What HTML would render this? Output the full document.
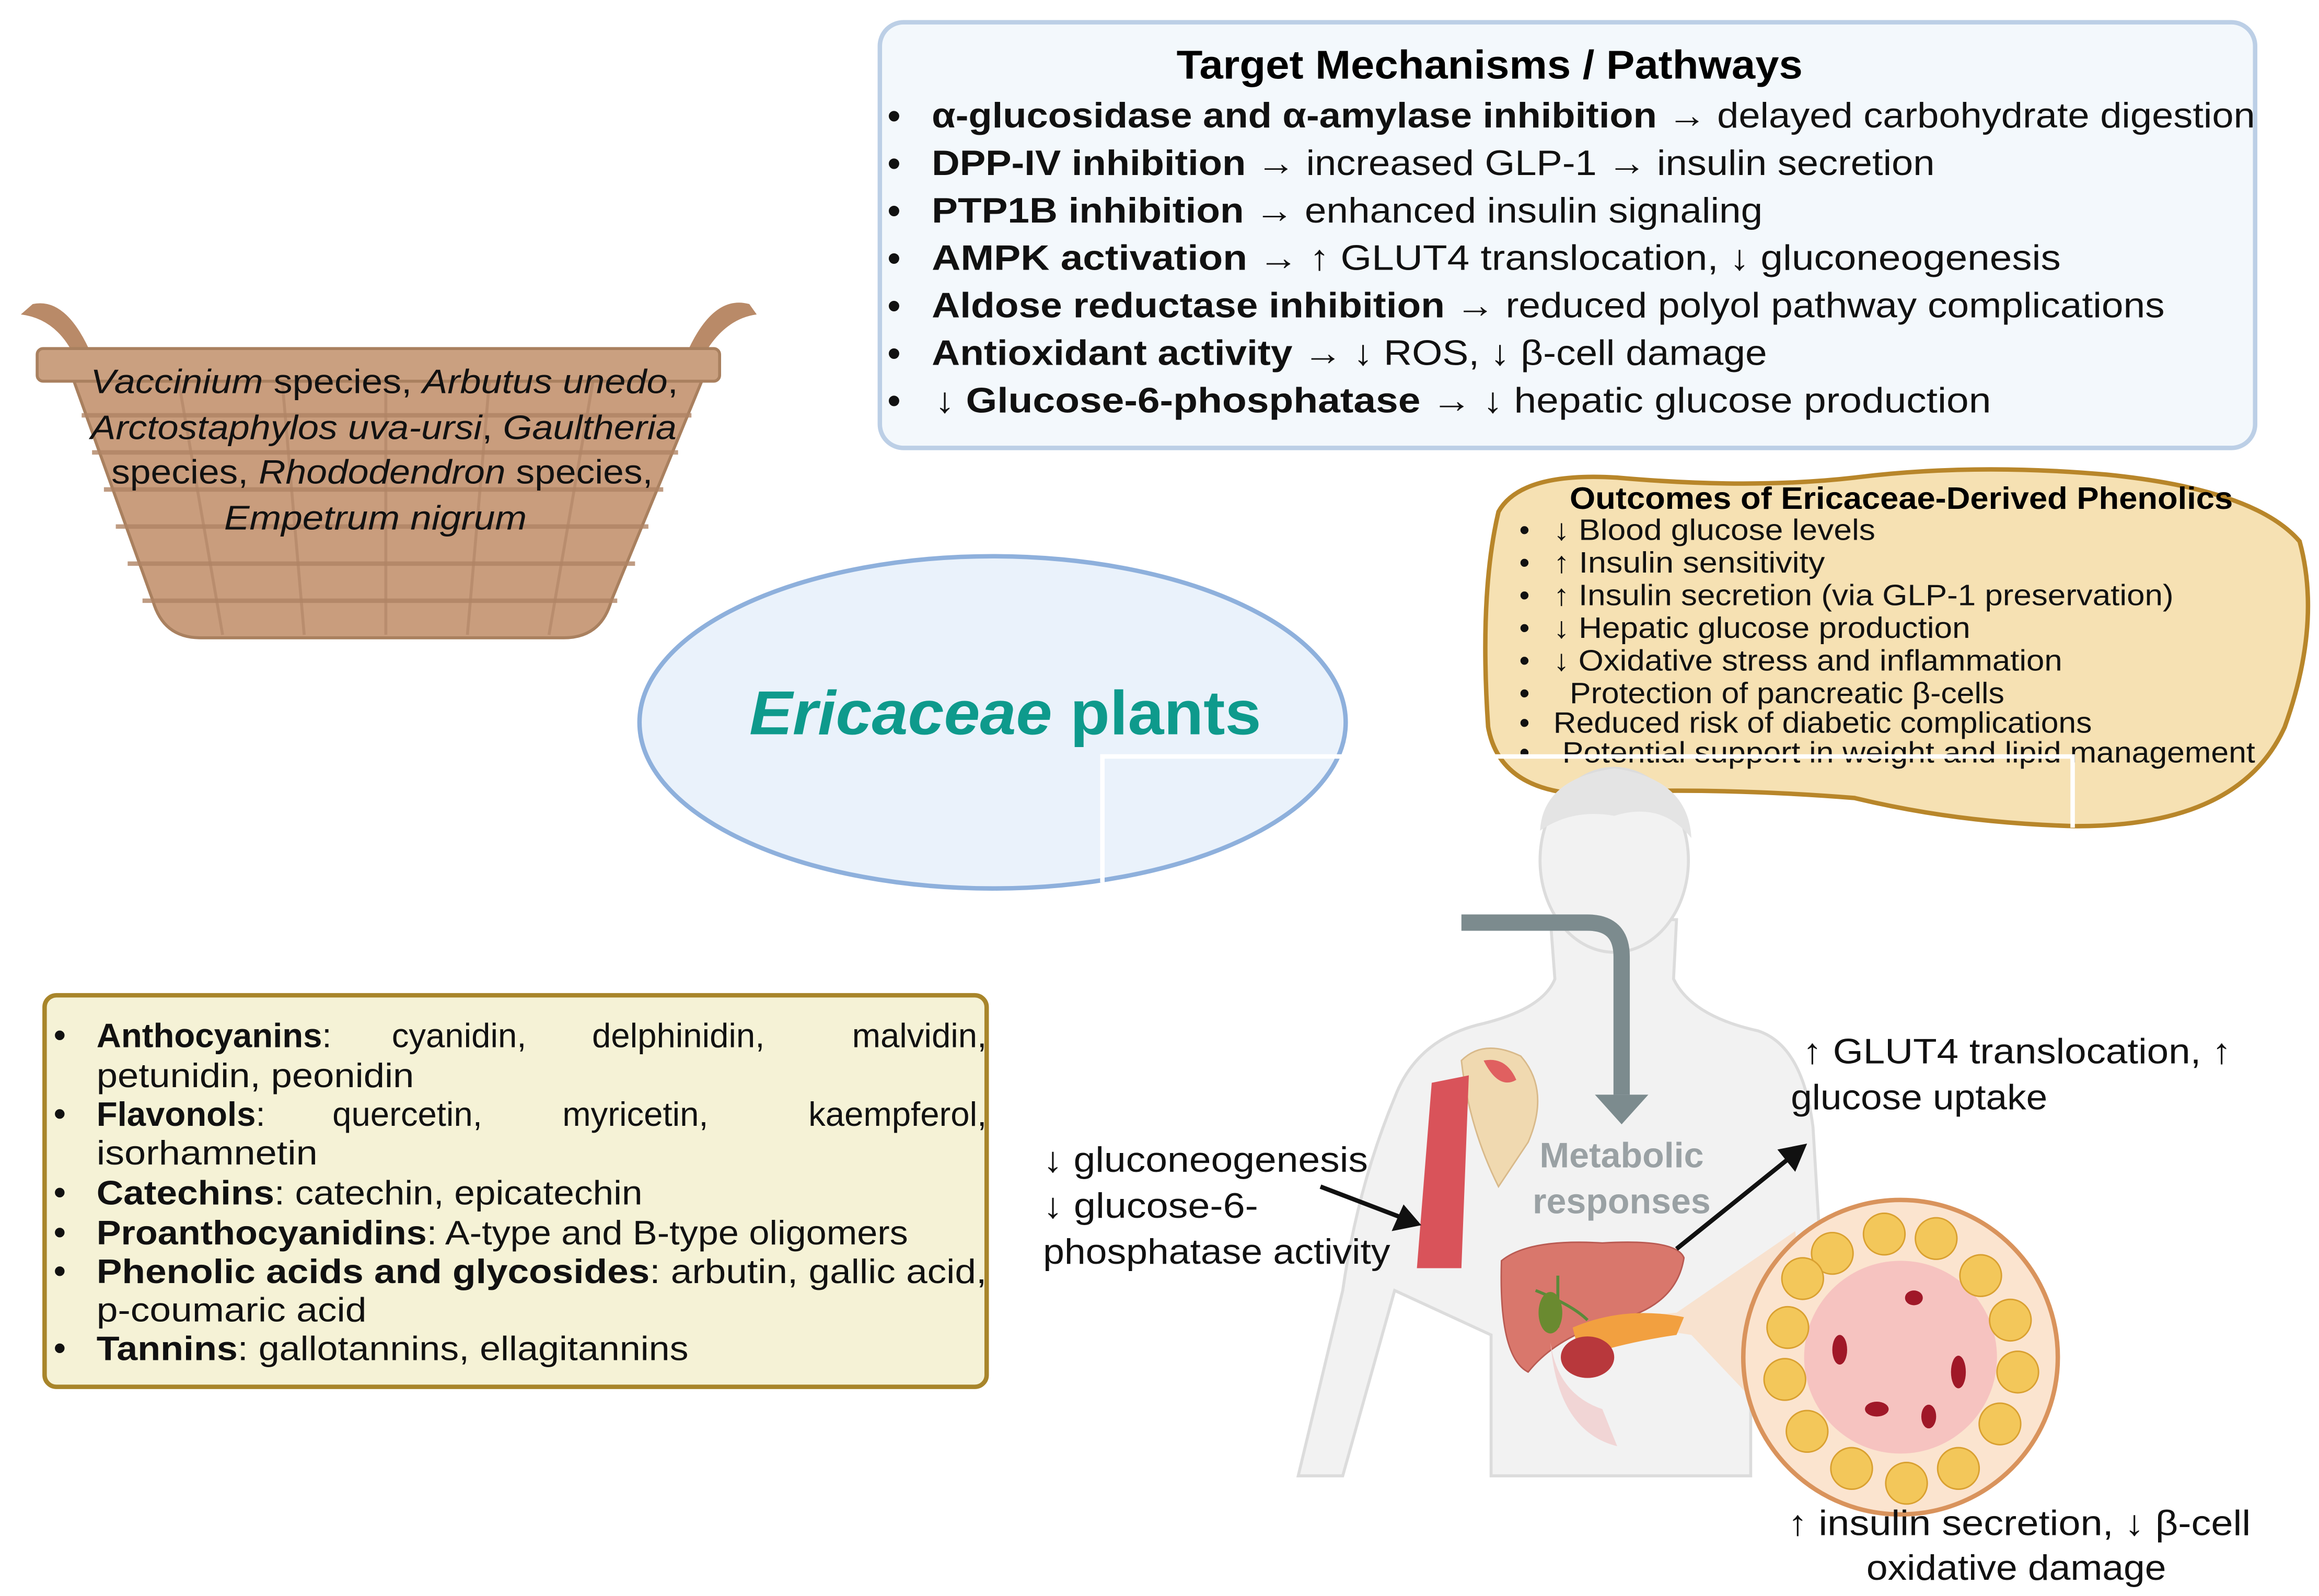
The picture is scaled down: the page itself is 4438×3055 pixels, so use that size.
<!DOCTYPE html>
<html><head><meta charset="utf-8"><style>
html,body{margin:0;padding:0;background:#fff;}
svg{display:block;}
text{font-family:"Liberation Sans",sans-serif;}
</style></head><body>
<svg width="4438" height="3055" viewBox="0 0 1563 1076" xmlns="http://www.w3.org/2000/svg">
<rect width="1563" height="1076" fill="#fff"/>
<!-- Target box -->
<rect x="593" y="15" width="927" height="287" rx="16" fill="#f3f8fc" stroke="#bccfe6" stroke-width="3"/>
<text x="793" y="53" font-size="27" font-weight="bold" textLength="422" lengthAdjust="spacingAndGlyphs">Target Mechanisms / Pathways</text>
<g font-size="24" fill="#111">
<g font-size="26"><text x="598" y="87">•</text><text x="598" y="119">•</text><text x="598" y="151">•</text><text x="598" y="183">•</text><text x="598" y="215">•</text><text x="598" y="247">•</text><text x="598" y="279">•</text></g>
<text x="628" y="86" textLength="892" lengthAdjust="spacingAndGlyphs"><tspan font-weight="bold">α-glucosidase and α-amylase inhibition</tspan> → delayed carbohydrate digestion</text>
<text x="628" y="118" textLength="676" lengthAdjust="spacingAndGlyphs"><tspan font-weight="bold">DPP-IV inhibition</tspan> → increased GLP-1 → insulin secretion</text>
<text x="628" y="150" textLength="560" lengthAdjust="spacingAndGlyphs"><tspan font-weight="bold">PTP1B inhibition</tspan> → enhanced insulin signaling</text>
<text x="628" y="182" textLength="761" lengthAdjust="spacingAndGlyphs"><tspan font-weight="bold">AMPK activation</tspan> → ↑ GLUT4 translocation, ↓ gluconeogenesis</text>
<text x="628" y="214" textLength="831" lengthAdjust="spacingAndGlyphs"><tspan font-weight="bold">Aldose reductase inhibition</tspan> → reduced polyol pathway complications</text>
<text x="628" y="246" textLength="563" lengthAdjust="spacingAndGlyphs"><tspan font-weight="bold">Antioxidant activity</tspan> → ↓ ROS, ↓ β-cell damage</text>
<text x="630" y="278" textLength="712" lengthAdjust="spacingAndGlyphs"><tspan font-weight="bold">↓ Glucose-6-phosphatase</tspan> → ↓ hepatic glucose production</text>
</g>
<!-- Basket -->
<path d="M22,205 Q45,200 62,240 L50,240 Q38,215 14,212 Z" fill="#b98a68"/>
<path d="M505,205 Q480,198 462,240 L474,240 Q488,215 510,212 Z" fill="#b98a68"/>
<path d="M48,252 L475,252 L412,405 Q405,430 380,430 L135,430 Q110,430 103,405 Z" fill="#c99d7d" stroke="#a9805f" stroke-width="2"/>
<g stroke="#b08465" stroke-width="3" opacity="0.8">
<line x1="55" y1="280" x2="466" y2="280"/><line x1="62" y1="305" x2="457" y2="305"/><line x1="70" y1="330" x2="447" y2="330"/><line x1="78" y1="355" x2="437" y2="355"/><line x1="86" y1="380" x2="428" y2="380"/><line x1="96" y1="405" x2="416" y2="405"/>
</g>
<g stroke="#b08465" stroke-width="2" opacity="0.6">
<line x1="120" y1="255" x2="150" y2="428"/><line x1="190" y1="255" x2="205" y2="428"/><line x1="260" y1="255" x2="260" y2="428"/><line x1="330" y1="255" x2="315" y2="428"/><line x1="400" y1="255" x2="370" y2="428"/>
</g>
<rect x="25" y="235" width="460" height="22" rx="4" fill="#caa080" stroke="#a9805f" stroke-width="2"/>
<g font-size="23" font-style="italic" fill="#111">
<text x="61" y="265" textLength="396" lengthAdjust="spacingAndGlyphs">Vaccinium<tspan font-style="normal"> species, </tspan>Arbutus unedo<tspan font-style="normal">,</tspan></text>
<text x="61" y="296" textLength="395" lengthAdjust="spacingAndGlyphs">Arctostaphylos uva-ursi<tspan font-style="normal">, </tspan>Gaultheria</text>
<text x="75" y="326" textLength="365" lengthAdjust="spacingAndGlyphs"><tspan font-style="normal">species, </tspan>Rhododendron<tspan font-style="normal"> species,</tspan></text>
<text x="151" y="357" textLength="204" lengthAdjust="spacingAndGlyphs">Empetrum nigrum</text>
</g>
<!-- Ellipse -->
<ellipse cx="669" cy="487" rx="238" ry="112" fill="#eaf2fb" stroke="#8eb0dc" stroke-width="3"/>
<text x="505" y="495" font-size="42" font-weight="bold" fill="#0e9a8c" textLength="345" lengthAdjust="spacingAndGlyphs"><tspan font-style="italic">Ericaceae</tspan> plants</text>
<!-- Outcomes blob -->
<path d="M1010,345 Q1025,318 1090,322 Q1180,330 1250,322 Q1330,312 1420,320 Q1520,330 1550,365 Q1565,420 1540,490 Q1510,557 1400,557 Q1320,555 1250,538 Q1150,530 1060,535 Q1010,530 1003,490 Q997,400 1010,345 Z" fill="#f6e1b3" stroke="#b8862a" stroke-width="3"/>
<text x="1058" y="343" font-size="21" font-weight="bold" textLength="447" lengthAdjust="spacingAndGlyphs">Outcomes of Ericaceae-Derived Phenolics</text>
<g font-size="20" fill="#111">
<g><text x="1024" y="364">•</text><text x="1024" y="386">•</text><text x="1024" y="408">•</text><text x="1024" y="430">•</text><text x="1024" y="452">•</text><text x="1024" y="474">•</text><text x="1024" y="494">•</text><text x="1024" y="514">•</text></g>
<text x="1047" y="364" textLength="217" lengthAdjust="spacingAndGlyphs">↓ Blood glucose levels</text>
<text x="1047" y="386" textLength="183" lengthAdjust="spacingAndGlyphs">↑ Insulin sensitivity</text>
<text x="1047" y="408" textLength="418" lengthAdjust="spacingAndGlyphs">↑ Insulin secretion (via GLP-1 preservation)</text>
<text x="1047" y="430" textLength="281" lengthAdjust="spacingAndGlyphs">↓ Hepatic glucose production</text>
<text x="1047" y="452" textLength="343" lengthAdjust="spacingAndGlyphs">↓ Oxidative stress and inflammation</text>
<text x="1058" y="474" textLength="293" lengthAdjust="spacingAndGlyphs">Protection of pancreatic β-cells</text>
<text x="1047" y="494" textLength="363" lengthAdjust="spacingAndGlyphs">Reduced risk of diabetic complications</text>
<text x="1053" y="514" textLength="467" lengthAdjust="spacingAndGlyphs">Potential support in weight and lipid management</text>
</g>
<!-- Human silhouette -->
<g fill="#f2f2f2" stroke="#dcdcdc" stroke-width="2">
<path d="M875,995 L905,870 Q915,800 940,740 Q955,700 1000,690 Q1040,680 1048,660 L1045,620 L1130,620 L1128,660 Q1140,685 1185,695 Q1215,705 1222,760 L1228,860 L1180,880 L1180,995 L1005,995 L1005,900 L940,870 L905,995 Z"/>
<ellipse cx="1088" cy="580" rx="50" ry="62"/>
</g>
<path d="M1038,560 Q1040,525 1088,518 Q1138,525 1140,565 Q1120,540 1088,550 Q1060,545 1038,560 Z" fill="#e4e4e4"/>
<!-- White connector lines -->
<g stroke="#fff" stroke-width="3" fill="none">
<polyline points="743,595 743,510 905,510"/>
<polyline points="1005,510 1397,510 1397,558"/>
</g>
<!-- Gray arrow -->
<path d="M985,622 L1070,622 Q1093,622 1093,645 L1093,738" stroke="#7c8b8e" stroke-width="11" fill="none"/>
<polygon points="1075,738 1111,738 1093,758" fill="#7c8b8e"/>
<text x="1093" y="787" font-size="24" font-weight="bold" fill="#9aa1a4" text-anchor="middle">Metabolic</text>
<text x="1093" y="818" font-size="24" font-weight="bold" fill="#9aa1a4" text-anchor="middle">responses</text>
<!-- Muscle / shoulder -->
<path d="M985,715 Q1000,700 1025,712 Q1045,735 1030,770 L1010,800 Q990,760 985,715 Z" fill="#f0d9b0" stroke="#d8b98a"/>
<path d="M965,730 L990,725 L985,855 L955,855 Z" fill="#d9535a"/>
<path d="M1000,715 Q1015,712 1022,728 Q1010,735 1000,715 Z" fill="#e06060"/>
<!-- Liver -->
<path d="M1012,850 Q1030,835 1080,838 Q1130,835 1135,848 Q1130,880 1090,890 Q1050,900 1030,925 Q1010,915 1012,850 Z" fill="#d9776c" stroke="#b95a52"/>
<path d="M1035,870 Q1060,880 1070,890 M1050,860 L1050,895" stroke="#5a8a3a" stroke-width="2" fill="none"/>
<ellipse cx="1045" cy="885" rx="8" ry="14" fill="#6a8a30"/>
<!-- Pancreas and cone -->
<path d="M1075,890 L1130,885 L1210,830 L1230,995 L1140,900 Z" fill="#fbd7b8" opacity="0.6"/>
<path d="M1060,895 Q1095,880 1135,888 L1130,900 Q1095,905 1065,915 Z" fill="#f2a040"/>
<ellipse cx="1070" cy="915" rx="18" ry="14" fill="#b8383c"/>
<path d="M1045,905 Q1050,940 1080,950 L1090,975 Q1050,965 1045,905 Z" fill="#f1d5d5"/>
<!-- Islet circle -->
<circle cx="1281" cy="915" r="106" fill="#fbe4cf" stroke="#d9935c" stroke-width="3"/>
<circle cx="1281" cy="915" r="65" fill="#f6c3c0"/>
<g fill="#f3c75a" stroke="#d9a030" stroke-width="1">
<circle cx="1235" cy="845" r="14"/><circle cx="1270" cy="832" r="14"/><circle cx="1305" cy="835" r="14"/><circle cx="1335" cy="860" r="14"/><circle cx="1355" cy="890" r="14"/><circle cx="1360" cy="925" r="14"/><circle cx="1348" cy="960" r="14"/><circle cx="1320" cy="990" r="14"/><circle cx="1285" cy="1000" r="14"/><circle cx="1248" cy="990" r="14"/><circle cx="1218" cy="965" r="14"/><circle cx="1203" cy="930" r="14"/><circle cx="1205" cy="895" r="14"/><circle cx="1215" cy="862" r="14"/>
</g>
<g fill="#a01828"><ellipse cx="1240" cy="910" rx="5" ry="10"/><ellipse cx="1290" cy="875" rx="6" ry="5"/><ellipse cx="1320" cy="925" rx="5" ry="11"/><ellipse cx="1265" cy="950" rx="8" ry="5"/><ellipse cx="1300" cy="955" rx="5" ry="8"/></g>
<!-- Black arrows -->
<g stroke="#111" stroke-width="3"><line x1="890" y1="800" x2="945" y2="821"/><line x1="1130" y1="842" x2="1207" y2="780"/></g>
<polygon points="958,826 938,830 946,812" fill="#111"/>
<polygon points="1218,771 1210,790 1198,775" fill="#111"/>
<!-- Labels -->
<g font-size="24" fill="#111">
<text x="703" y="790" textLength="219" lengthAdjust="spacingAndGlyphs">↓ gluconeogenesis</text>
<text x="703" y="821" textLength="145" lengthAdjust="spacingAndGlyphs">↓ glucose-6-</text>
<text x="703" y="852" textLength="234" lengthAdjust="spacingAndGlyphs">phosphatase activity</text>
<text x="1215" y="717" textLength="289" lengthAdjust="spacingAndGlyphs">↑ GLUT4 translocation, ↑</text>
<text x="1207" y="748" textLength="173" lengthAdjust="spacingAndGlyphs">glucose uptake</text>
<text x="1205" y="1035" textLength="312" lengthAdjust="spacingAndGlyphs">↑ insulin secretion, ↓ β-cell</text>
<text x="1258" y="1065" textLength="202" lengthAdjust="spacingAndGlyphs">oxidative damage</text>
</g>
<!-- Phenolics box -->
<rect x="30" y="671" width="635" height="264" rx="8" fill="#f5f2d6" stroke="#a8852a" stroke-width="3"/>
<g font-size="23" fill="#111">
<g font-size="24"><text x="36" y="706">•</text><text x="36" y="759">•</text><text x="36" y="812">•</text><text x="36" y="839">•</text><text x="36" y="865">•</text><text x="36" y="917">•</text></g>
<text x="65" y="706" font-weight="bold">Anthocyanins<tspan font-weight="normal">:</tspan></text>
<text x="264" y="706">cyanidin,</text><text x="399" y="706">delphinidin,</text><text x="665" y="706" text-anchor="end">malvidin,</text>
<text x="65" y="733" textLength="214" lengthAdjust="spacingAndGlyphs">petunidin, peonidin</text>
<text x="65" y="759" font-weight="bold">Flavonols<tspan font-weight="normal">:</tspan></text>
<text x="224" y="759">quercetin,</text><text x="379" y="759">myricetin,</text><text x="665" y="759" text-anchor="end">kaempferol,</text>
<text x="65" y="785" textLength="149" lengthAdjust="spacingAndGlyphs">isorhamnetin</text>
<text x="65" y="812" textLength="368" lengthAdjust="spacingAndGlyphs"><tspan font-weight="bold">Catechins</tspan>: catechin, epicatechin</text>
<text x="65" y="839" textLength="547" lengthAdjust="spacingAndGlyphs"><tspan font-weight="bold">Proanthocyanidins</tspan>: A-type and B-type oligomers</text>
<text x="65" y="865" textLength="600" lengthAdjust="spacingAndGlyphs"><tspan font-weight="bold">Phenolic acids and glycosides</tspan>: arbutin, gallic acid,</text>
<text x="65" y="891" textLength="182" lengthAdjust="spacingAndGlyphs">p-coumaric acid</text>
<text x="65" y="917" textLength="399" lengthAdjust="spacingAndGlyphs"><tspan font-weight="bold">Tannins</tspan>: gallotannins, ellagitannins</text>
</g>
</svg>
</body></html>
